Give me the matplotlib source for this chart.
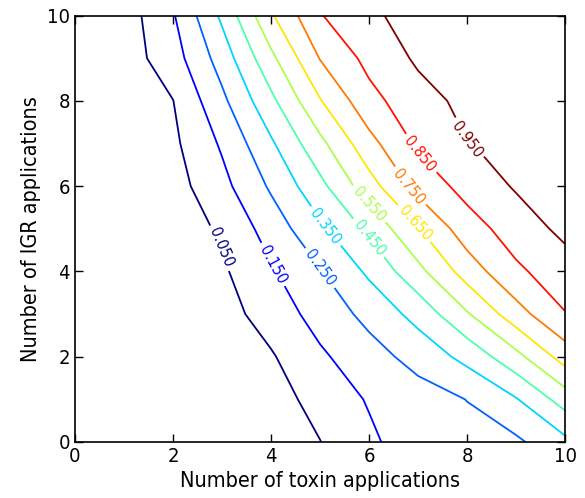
import numpy as np
import matplotlib
matplotlib.use("Agg")
import matplotlib.pyplot as plt

plt.rcParams["font.family"] = ["DejaVu Sans"]
plt.rcParams["font.stretch"] = "condensed"

# Grid axes
toxin_apps = [0, 1, 2, 3, 4, 5, 6, 7, 8, 9, 10]
igr_apps = [0, 1, 2, 3, 4, 5, 6, 7, 8, 9, 10]

# Values on the grid, one row per IGR count (0..10), columns are toxin counts (0..10)
row_igr0 = [0, 0, 0, 0, 0, 0.048, 0.130, 0.210, 0.215, 0.232, 0.325]
row_igr1 = [0, 0, 0, 0, 0.010, 0.083, 0.159, 0.206, 0.252, 0.343, 0.495]
row_igr2 = [0, 0, 0, 0, 0.040, 0.134, 0.210, 0.286, 0.380, 0.519, 0.695]
row_igr3 = [0, 0, 0, 0.010, 0.094, 0.188, 0.279, 0.384, 0.540, 0.709, 0.846]
row_igr4 = [0, 0, 0, 0.035, 0.138, 0.243, 0.368, 0.521, 0.696, 0.832, 0.905]
row_igr5 = [0, 0, 0, 0.063, 0.194, 0.329, 0.472, 0.643, 0.805, 0.897, 0.975]
row_igr6 = [0, 0, 0.010, 0.120, 0.264, 0.422, 0.609, 0.785, 0.885, 0.960, 0.980]
row_igr7 = [0, 0, 0.030, 0.163, 0.335, 0.523, 0.717, 0.868, 0.948, 0.965, 0.985]
row_igr8 = [0, 0, 0.048, 0.227, 0.425, 0.643, 0.818, 0.913, 0.975, 0.980, 0.990]
row_igr9 = [0, 0, 0.106, 0.293, 0.525, 0.754, 0.879, 0.965, 0.980, 0.985, 0.992]
row_igr10 = [0, 0, 0.140, 0.369, 0.637, 0.844, 0.929, 0.995, 0.996, 0.997, 0.998]

levels = [0.05, 0.15, 0.25, 0.35, 0.45, 0.55, 0.65, 0.75, 0.85, 0.95]

x_ticks = [0, 2, 4, 6, 8, 10]
y_ticks = [0, 2, 4, 6, 8, 10]

Z = np.array([row_igr0, row_igr1, row_igr2, row_igr3, row_igr4, row_igr5,
              row_igr6, row_igr7, row_igr8, row_igr9, row_igr10])
X, Y = np.meshgrid(toxin_apps, igr_apps)

fig = plt.figure(figsize=(5.85, 4.98), dpi=100)
ax = fig.add_axes([0.128, 0.1125, 0.838, 0.856])

cmap = plt.get_cmap("jet")
norm = matplotlib.colors.Normalize(vmin=min(levels), vmax=max(levels))

# approximate label locations (one per level)
label_pos = [(3.02, 4.58), (4.02, 4.15), (5.0, 4.08), (5.16, 5.1), (6.02, 4.81),
             (6.0, 5.58), (6.9, 5.1), (6.82, 5.99), (7.0, 6.71), (8.02, 7.11)]
for lev, pos in zip(levels, label_pos):
    cs = ax.contour(X, Y, Z, levels=[lev], colors=[cmap(norm(lev))], linewidths=1.3)
    ax.clabel(cs, inline=True, fmt="%.3f", fontsize=11.5, manual=[pos], inline_spacing=4)

ax.set_xlim(0, 10)
ax.set_ylim(0, 10)
ax.set_xticks(x_ticks)
ax.set_yticks(y_ticks)
ax.tick_params(direction="in", length=6, width=1, top=True, right=True, labelsize=14.5)
for s in ax.spines.values():
    s.set_linewidth(1.2)
ax.set_xlabel("Number of toxin applications", fontsize=15.5)
ax.set_ylabel("Number of IGR applications", fontsize=15.5)

fig.savefig("out.png", dpi=100)
